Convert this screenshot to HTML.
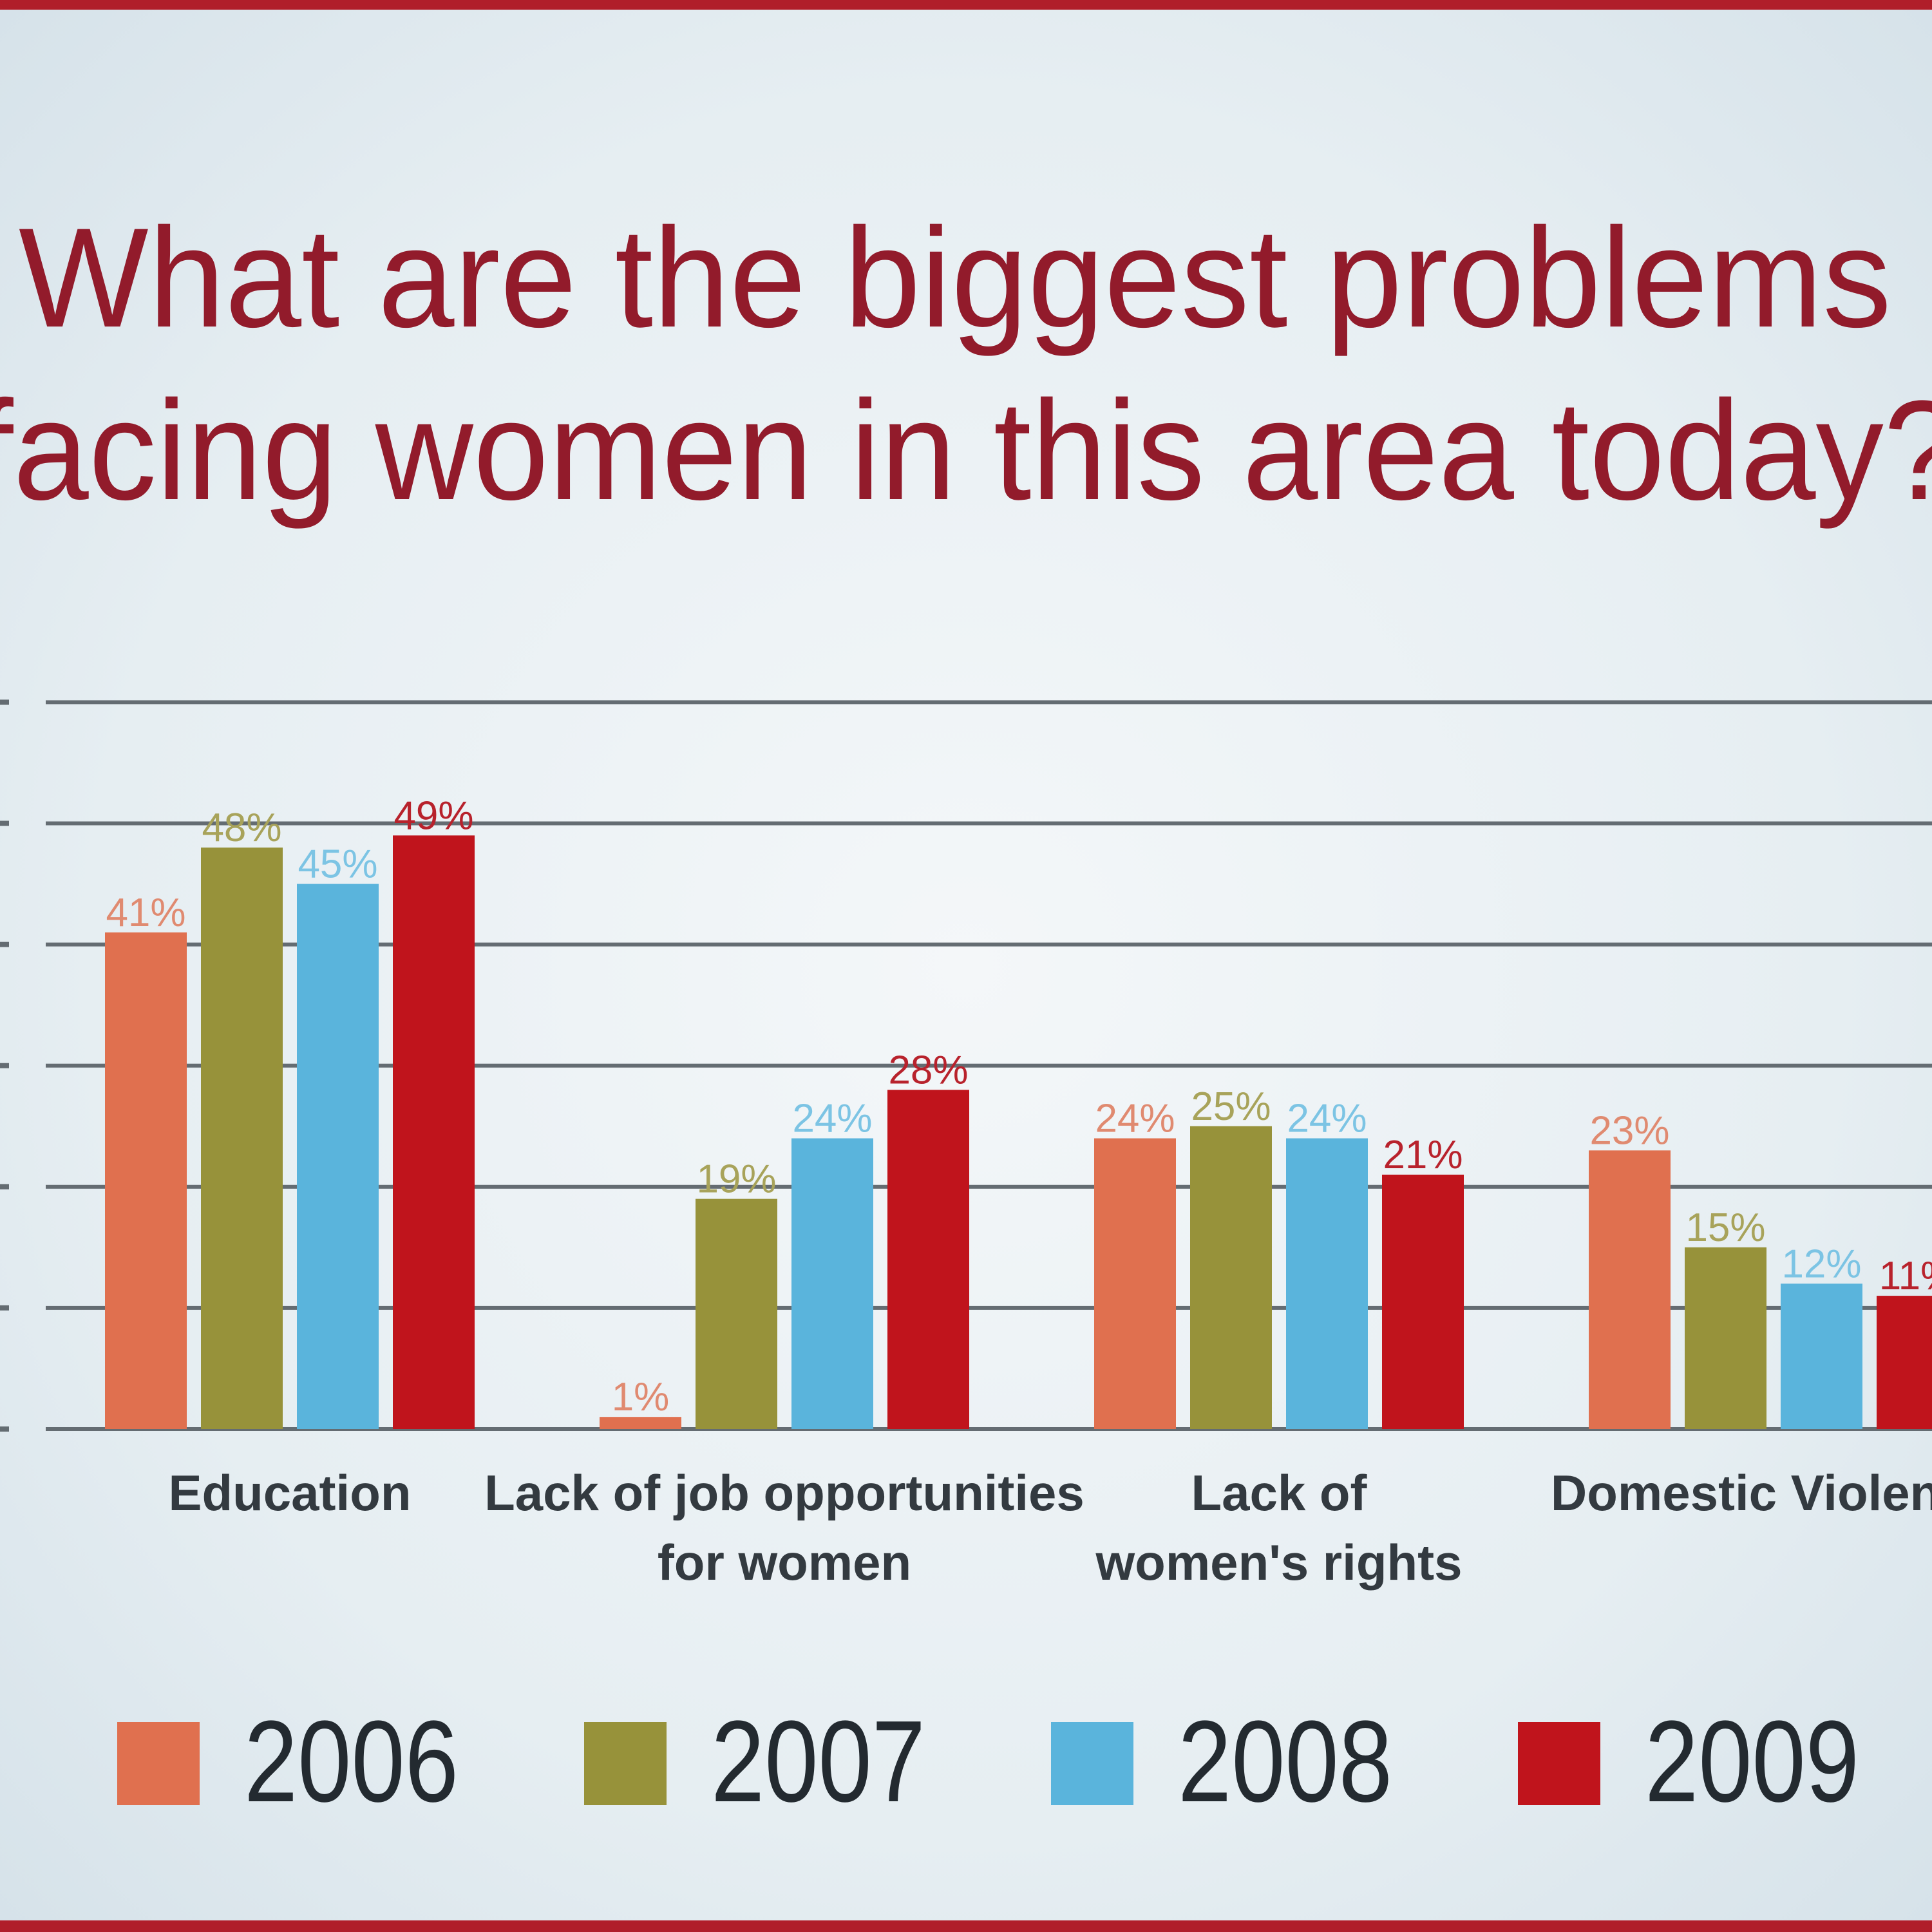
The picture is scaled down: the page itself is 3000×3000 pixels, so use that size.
<!DOCTYPE html>
<html><head><meta charset="utf-8"><style>
html,body{margin:0;padding:0;}
body{width:3000px;height:3000px;overflow:hidden;}
svg{display:block;}
</style></head><body>
<svg id="chart" width="3000" height="3000" viewBox="0 0 3000 3000" xmlns="http://www.w3.org/2000/svg">
<defs>
<radialGradient id="bg" cx="0.5" cy="0.5" r="0.75">
<stop offset="0" stop-color="#f4f7f9"/>
<stop offset="0.6" stop-color="#e6eef2"/>
<stop offset="1" stop-color="#d3e0e8"/>
</radialGradient>
</defs>
<rect x="0" y="0" width="3000" height="3000" fill="url(#bg)"/>
<rect x="0" y="0" width="3000" height="15" fill="#b01e2a"/>
<rect x="0" y="2982" width="3000" height="18" fill="#b01e2a"/>
<text x="29" y="507" font-family="'Liberation Sans Narrow','Liberation Sans',sans-serif" font-size="220" fill="#921b2b" textLength="2908" lengthAdjust="spacingAndGlyphs">What are the biggest problems</text>
<text x="-38" y="775" font-family="'Liberation Sans Narrow','Liberation Sans',sans-serif" font-size="220" fill="#921b2b" textLength="3080" lengthAdjust="spacingAndGlyphs">facing women in this area today?</text>
<g id="grid"></g>
<g id="bars"></g>
<g id="cats"></g>
<g id="legend"></g>
</svg>
<script>
const categories = [["Education"], ["Lack of job opportunities", "for women"], ["Lack of", "women's rights"], ["Domestic Violence"]];
const years = ["2006", "2007", "2008", "2009"];
const s2006 = [41, 1, 24, 23];
const s2007 = [48, 19, 25, 15];
const s2008 = [45, 24, 24, 12];
const s2009 = [49, 28, 21, 11];
const gridTicks = [0, 10, 20, 30, 40, 50, 60];

const series = [s2006, s2007, s2008, s2009];
const colors = ["#e0704f", "#97923a", "#5ab4dc", "#c0141c"];
const labelColors = ["#e08a70", "#a8a35a", "#7cc4e4", "#b8222c"];
const NS = "http://www.w3.org/2000/svg";
const baseY = 2219, pxPer = 18.81;
function yScale(v){ return baseY - v * pxPer; }
function xBar(g, s){ return 163 + g * 768 + s * 149; }
const barW = 127;
function mk(tag, attrs, parent){ const e = document.createElementNS(NS, tag); for (const k in attrs) e.setAttribute(k, attrs[k]); parent.appendChild(e); return e; }

const grid = document.getElementById('grid');
gridTicks.forEach(t => {
  const y = yScale(t);
  const l = mk('rect', {x: 71, y: y - 3, width: 2929, height: 6, fill: '#646c72'}, grid);
  
  
  const tk = mk('rect', {x: 0, y: y - 4, width: 14, height: 8, fill: '#646c72'}, grid);
  
  
});

const bars = document.getElementById('bars');
series.forEach((vals, s) => {
  vals.forEach((v, g) => {
    const x = xBar(g, s), y = yScale(v);
    const r = mk('rect', {x: x, y: y, width: barW, height: baseY - y, fill: colors[s]}, bars);
    
    
    const t = mk('text', {x: x + barW / 2, y: y - 10, 'text-anchor': 'middle', 'font-family': "'Liberation Sans Narrow','Liberation Sans',sans-serif", 'font-size': 62, fill: labelColors[s]}, bars);
    t.textContent = v + '%';
    
    
  });
});

const cats = document.getElementById('cats');
categories.forEach((lines, g) => {
  const cx = xBar(g, 0) + (3 * 149 + barW) / 2;
  lines.forEach((ln, i) => {
    const t = mk('text', {x: cx, y: 2345 + i * 108, 'text-anchor': 'middle', 'font-family': "'Liberation Sans Narrow','Liberation Sans',sans-serif", 'font-size': 78, 'font-weight': 600, fill: '#333a40'}, cats);
    t.textContent = ln;
    
    
  });
});

const legend = document.getElementById('legend');
years.forEach((yr, s) => {
  const x = 182 + s * 725;
  const r = mk('rect', {x: x, y: 2674, width: 128, height: 129, fill: colors[s]}, legend);
  
  
  const t = mk('text', {x: x + 197, y: 2797, 'font-family': "'Liberation Sans Narrow','Liberation Sans',sans-serif", 'font-size': 180, fill: '#232a30', textLength: 333, lengthAdjust: 'spacingAndGlyphs'}, legend);
  t.textContent = yr;
  
  
});
</script>
</body></html>
